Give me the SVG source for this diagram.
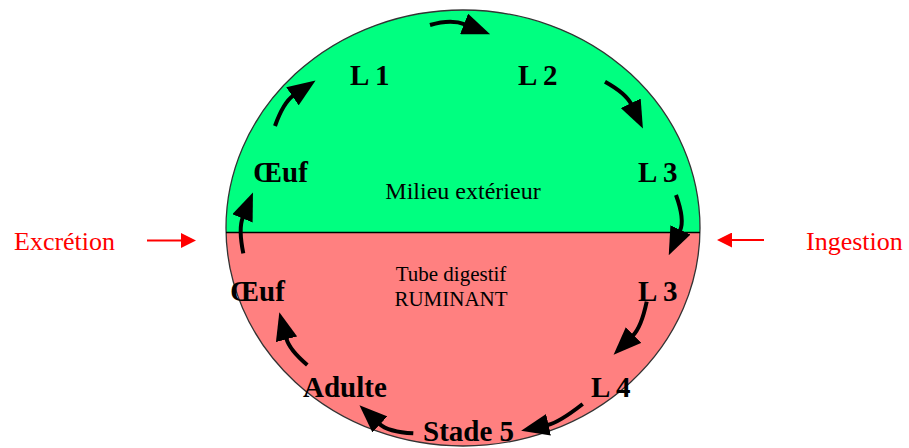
<svg xmlns="http://www.w3.org/2000/svg" width="909" height="448" viewBox="0 0 909 448">
<defs>
<clipPath id="cl"><ellipse cx="463" cy="228" rx="237" ry="218"/></clipPath>
<marker id="ah" viewBox="0 0 28 22" refX="1" refY="11" markerWidth="28" markerHeight="22" markerUnits="userSpaceOnUse" orient="auto"><path d="M0,0 L28,11 L0,22 Z" fill="#000"/></marker>
<marker id="rh" viewBox="0 0 15 15" refX="1" refY="7.5" markerWidth="15" markerHeight="15" markerUnits="userSpaceOnUse" orient="auto"><path d="M0,0 L15,7.5 L0,15 Z" fill="#f00"/></marker>
<style>
.st{font-family:"Liberation Serif","Times New Roman",serif;font-weight:bold;font-size:29px;fill:#000}
.zone{font-family:"Liberation Serif","Times New Roman",serif;fill:#000}
.side{font-family:"Liberation Serif","Times New Roman",serif;font-size:26px;fill:#f00}
.arr{fill:none;stroke:#000;stroke-width:4;marker-end:url(#ah)}
.red{fill:none;stroke:#f00;stroke-width:2;marker-end:url(#rh)}
</style>
</defs>
<g id="milieu">
<g clip-path="url(#cl)">
<rect x="220" y="0" width="490" height="232.5" fill="#00FF80"/>
<rect x="220" y="232.5" width="490" height="220" fill="#FF8080"/>
</g>
<ellipse cx="463" cy="228" rx="237" ry="218" fill="none" stroke="#333" stroke-width="1.3"/>
<line x1="226" y1="232.5" x2="700" y2="232.5" stroke="#000" stroke-width="1.6"/>
<text class="zone" x="463" y="198.5" font-size="24" text-anchor="middle">Milieu extérieur</text>
<text class="zone" x="451" y="281" font-size="21" text-anchor="middle">Tube digestif</text>
<text class="zone" x="451" y="306" font-size="21" text-anchor="middle">RUMINANT</text>
</g>
<g id="n-oeuf1"><text class="st" x="253" y="182">Œuf</text></g>
<g id="n-l1"><text class="st" x="350" y="85">L 1</text></g>
<g id="n-l2"><text class="st" x="518" y="85">L 2</text></g>
<g id="n-l3a"><text class="st" x="638" y="182">L 3</text></g>
<g id="n-l3b"><text class="st" x="638" y="301">L 3</text></g>
<g id="n-l4"><text class="st" x="591" y="397">L 4</text></g>
<g id="n-stade5"><text class="st" x="423" y="441">Stade 5</text></g>
<g id="n-adulte"><text class="st" x="303" y="397">Adulte</text></g>
<g id="n-oeuf2"><text class="st" x="230" y="301">Œuf</text></g>
<g id="n-excretion"><text class="side" x="14" y="250">Excrétion</text></g>
<g id="n-ingestion"><text class="side" x="806" y="250">Ingestion</text></g>
<g id="connectors">
<path class="arr" d="M430,25 Q451,18.8 465,24.3"/>
<path class="arr" d="M275,126 Q283.4,102.5 293.3,95.7"/>
<path class="arr" d="M605,81.7 Q626,93.4 631.2,104.2"/>
<path class="arr" d="M676,195 Q685,219.9 680,230.8"/>
<path class="arr" d="M646.7,301.7 Q641.3,327.3 632.8,335.7"/>
<path class="arr" d="M582.7,404 Q559.2,422.4 547.5,425"/>
<path class="arr" d="M413.3,433.3 Q388,431.9 379.2,423.7"/>
<path class="arr" d="M307.3,365 Q289.4,349.9 286.3,338.3"/>
<path class="arr" d="M243.3,253.3 Q238.3,228.6 242.8,217.5"/>
<path class="red" d="M147,240.5 L182,240.5"/>
<path class="red" d="M764,240 L731,240"/>
</g>
</svg>
